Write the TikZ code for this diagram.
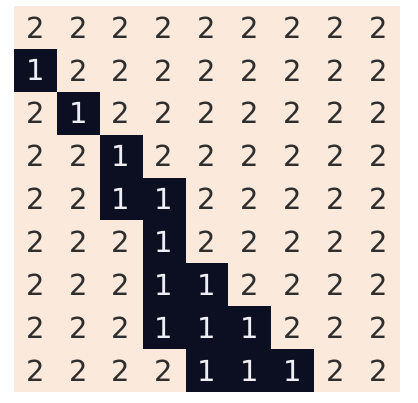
\documentclass[tikz,border=0pt]{standalone}
\usepackage{fontspec}
\setmainfont{DejaVu Sans}
\definecolor{bg}{HTML}{FBE9DC}
\definecolor{dark}{HTML}{0C0F22}
\definecolor{txtdark}{HTML}{2E2E2E}
\definecolor{txtlight}{HTML}{EEEEF4}
\tikzset{
  cellval/.style={font=\fontsize{29}{29}\selectfont, text=txtdark, inner sep=0pt, anchor=center},
  cellone/.style={cellval, text=txtlight}
}
\begin{document}
\begin{tikzpicture}[x=1pt,y=1pt]
\useasboundingbox (0,0) rectangle (418,402);
\def\cs{42.889}
\fill[bg] (14,10) rectangle (400,396);
% dark cells: (row,col) rows from top
\foreach \r/\c in {1/0,2/1,3/2,4/2,4/3,5/3,6/3,6/4,7/3,7/4,7/5,8/4,8/5,8/6}{
  \fill[dark] ({14+\c*\cs},{396-(\r+1)*\cs}) rectangle ({14+(\c+1)*\cs},{396-\r*\cs});
}
\foreach \row [count=\r from 0] in {
  {2,2,2,2,2,2,2,2,2},
  {1,2,2,2,2,2,2,2,2},
  {2,1,2,2,2,2,2,2,2},
  {2,2,1,2,2,2,2,2,2},
  {2,2,1,1,2,2,2,2,2},
  {2,2,2,1,2,2,2,2,2},
  {2,2,2,1,1,2,2,2,2},
  {2,2,2,1,1,1,2,2,2},
  {2,2,2,2,1,1,1,2,2}}{
  \foreach \v [count=\c from 0] in \row {
    \ifnum\v=1
      \node[cellone] (n\r-\c) at ({14+(\c+0.5)*\cs},{396-(\r+0.5)*\cs}) {\v};
    \else
      \node[cellval] (n\r-\c) at ({14+(\c+0.5)*\cs},{396-(\r+0.5)*\cs}) {\v};
    \fi
  }
}
\end{tikzpicture}
\end{document}
